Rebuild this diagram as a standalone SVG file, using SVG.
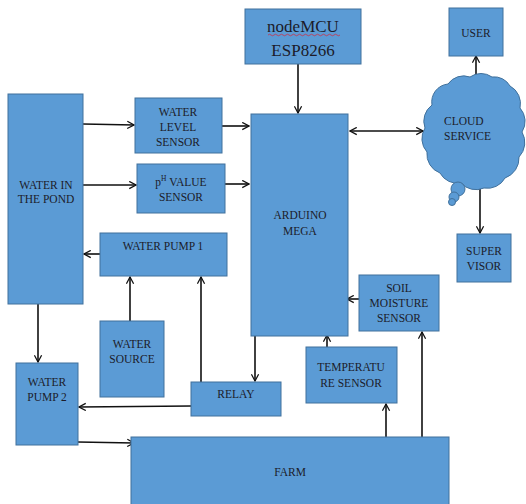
<svg xmlns="http://www.w3.org/2000/svg" width="526" height="504" viewBox="0 0 526 504">
<style>
.b{fill:#5b9bd5;stroke:#41719c;stroke-width:1}
.t{font-family:"Liberation Serif","Times New Roman",serif;font-size:11.5px;fill:#1c1c2a;text-anchor:middle}
.c{stroke:#111;stroke-width:1.6;fill:none}
.a{marker-end:url(#ah)}
</style>
<defs>
<marker id="ah" viewBox="0 0 10 10" refX="9" refY="5" markerWidth="9" markerHeight="9" orient="auto-start-reverse" markerUnits="userSpaceOnUse">
<path d="M1.5,1 L9,5 L1.5,9" fill="none" stroke="#111" stroke-width="1.4"/>
</marker>
</defs>
<rect width="526" height="504" fill="#fff"/>
<g id="connectors">
<line class="c a" x1="83" y1="124" x2="134" y2="125"/>
<line class="c a" x1="222" y1="126" x2="249" y2="126"/>
<line class="c a" x1="83" y1="185" x2="136" y2="185"/>
<line class="c a" x1="225" y1="184" x2="249" y2="184"/>
<line class="c a" x1="100" y1="254" x2="84" y2="254"/>
<line class="c a" x1="130" y1="321" x2="130" y2="277"/>
<line class="c a" x1="201" y1="382" x2="201" y2="277"/>
<line class="c a" x1="38" y1="304" x2="38" y2="362"/>
<line class="c a" x1="255" y1="336" x2="255" y2="381"/>
<line class="c a" x1="191" y1="406" x2="79" y2="407"/>
<line class="c a" x1="78" y1="442" x2="134" y2="443"/>
<line class="c a" x1="386" y1="437" x2="386" y2="404"/>
<line class="c a" x1="422" y1="437" x2="422" y2="332"/>
<line class="c a" x1="359" y1="299" x2="347" y2="299"/>
<line class="c a" x1="327" y1="347" x2="327" y2="335"/>
<line class="c a" x1="298" y1="64" x2="298" y2="113"/>
<line class="c a" x1="350" y1="131" x2="423" y2="131" style="marker-start:url(#ah)"/>
<line class="c a" x1="476" y1="76" x2="476" y2="56"/>
<line class="c a" x1="480" y1="188" x2="480" y2="233"/>
</g>
<g id="pond"><rect class="b" x="8" y="94" width="75" height="210"/>
<text class="t" x="46" y="189">WATER IN</text><text class="t" x="46" y="203">THE POND</text></g>
<g id="water-level"><rect class="b" x="135" y="98" width="87" height="55"/>
<text class="t" x="178" y="116">WATER</text><text class="t" x="178" y="131">LEVEL</text><text class="t" x="178" y="146">SENSOR</text></g>
<g id="ph"><rect class="b" x="137" y="164" width="88" height="49"/>
<text class="t" x="181" y="186">p<tspan font-size="7.5" dy="-5">H</tspan><tspan dy="5"> VALUE</tspan></text><text class="t" x="181" y="201">SENSOR</text></g>
<g id="pump1"><rect class="b" x="100" y="233" width="127" height="43"/>
<text class="t" x="163" y="250">WATER PUMP 1</text></g>
<g id="arduino"><rect class="b" x="251" y="114" width="97" height="222"/>
<text class="t" x="300" y="219">ARDUINO</text><text class="t" x="300" y="235">MEGA</text></g>
<g id="nodemcu"><rect class="b" x="245" y="9" width="116" height="55"/>
<text class="t" x="303" y="32" style="font-size:17px">nodeMCU</text>
<path d="M268,35 q1.5,-1.5 3,0 t3,0 t3,0 t3,0 t3,0 t3,0 t3,0 t3,0 t3,0 t3,0 t3,0 t3,0 t3,0 t3,0 t3,0 t3,0 t3,0 t3,0 t3,0 t3,0 t3,0 t3,0 t3,0 t3,0" fill="none" stroke="#d23" stroke-width="0.7"/>
<text class="t" x="303" y="56" style="font-size:17px">ESP8266</text></g>
<g id="user"><rect class="b" x="449" y="8" width="54" height="48"/>
<text class="t" x="476" y="37">USER</text></g>
<g id="cloud">
<path class="b" d="M432,105 A18,18 0 0 1 448,84 A19,19 0 0 1 470,77 A19,19 0 0 1 492,77 A18,18 0 0 1 510,86 A20,20 0 0 1 520,108 A20,20 0 0 1 522,132 A21,21 0 0 1 519,157 A21,21 0 0 1 505,178 A20,20 0 0 1 484,188 A20,20 0 0 1 461,183 A20,20 0 0 1 440,173 A20,20 0 0 1 427,152 A20,20 0 0 1 425,128 A20,20 0 0 1 432,105 Z"/>
<circle class="b" cx="458" cy="189" r="7"/>
<circle class="b" cx="454" cy="197" r="5"/>
<circle class="b" cx="452" cy="202" r="3.5"/>
<text class="t" x="444" y="125" style="text-anchor:start">CLOUD</text><text class="t" x="444" y="140" style="text-anchor:start">SERVICE</text></g>
<g id="supervisor"><rect class="b" x="457" y="234" width="54" height="48"/>
<text class="t" x="484" y="255">SUPER</text><text class="t" x="484" y="270">VISOR</text></g>
<g id="soil"><rect class="b" x="359" y="275" width="80" height="56"/>
<text class="t" x="399" y="292">SOIL</text><text class="t" x="399" y="307">MOISTURE</text><text class="t" x="399" y="322">SENSOR</text></g>
<g id="temperature"><rect class="b" x="306" y="347" width="91" height="56"/>
<text class="t" x="351" y="371">TEMPERATU</text><text class="t" x="351" y="387">RE SENSOR</text></g>
<g id="farm"><rect class="b" x="131" y="437" width="318" height="70"/>
<text class="t" x="290" y="476">FARM</text></g>
<g id="pump2"><rect class="b" x="16" y="363" width="62" height="82"/>
<text class="t" x="47" y="386">WATER</text><text class="t" x="47" y="401">PUMP 2</text></g>
<g id="source"><rect class="b" x="100" y="321" width="64" height="76"/>
<text class="t" x="132" y="348">WATER</text><text class="t" x="132" y="363">SOURCE</text></g>
<g id="relay"><rect class="b" x="191" y="382" width="90" height="34"/>
<text class="t" x="236" y="398">RELAY</text></g>
</svg>
